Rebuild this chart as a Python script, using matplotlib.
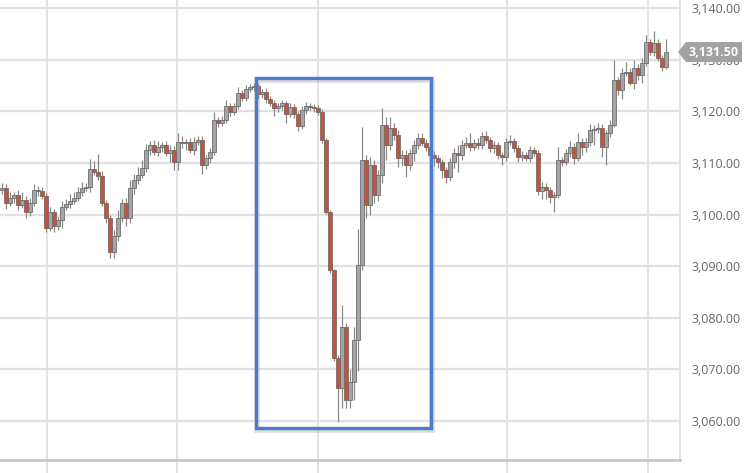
import matplotlib
matplotlib.use("Agg")
import matplotlib.pyplot as plt
import numpy as np
from matplotlib.patches import Rectangle, Polygon
from matplotlib.transforms import IdentityTransform

# closing prices, one per candle
closes = [
    3105.15, 3102.25, 3103.2, 3103.8, 3101.85, 3102.85, 3100.5, 3102.25, 3104.75, 3104.5,
    3103.6, 3097.4, 3100.5, 3097.8, 3098.95, 3101.5, 3102.05, 3102.65, 3103.2, 3104.4,
    3105.15, 3105.35, 3108.85, 3108.25, 3107.5, 3102.25, 3099.35, 3092.75, 3095.85, 3099.35,
    3102.25, 3099.35, 3105.15, 3106.7, 3107.7, 3109.05, 3112.5, 3113.5, 3112.15, 3113.1,
    3113.5, 3111.95, 3112.5, 3110.2, 3114.1, 3113.8, 3114.1, 3112.5, 3114.1, 3114.45,
    3109.6, 3110.95, 3112.15, 3118.35, 3117.75, 3118.35, 3121.05, 3119.9, 3121.05, 3123.6,
    3122.6, 3124.35, 3124.75, 3124.9, 3123.4, 3123.75, 3122.4, 3121.6, 3120.65, 3121.05,
    3121.6, 3119.5, 3120.85, 3119.5, 3117.15, 3120.25, 3121.05, 3120.9, 3120.65, 3119.9,
    3114.45, 3100.5, 3089.25, 3072.2, 3066.4, 3078.2, 3064.1, 3067.55, 3075.7, 3090.25,
    3110.6, 3101.85, 3109.6, 3103.8, 3107.7, 3117.35, 3113.5, 3116.8, 3115.45, 3110.95,
    3111.55, 3109.6, 3111.95, 3113.5, 3114.85, 3113.9, 3113.1, 3111.55, 3110.95, 3110.2,
    3108.65, 3107.3, 3110.2, 3111.95, 3111.55, 3113.5, 3113.9, 3113.1, 3113.9, 3113.5,
    3115.25, 3114.45, 3112.9, 3113.5, 3111.55, 3111.15, 3114.1, 3114.25, 3112.9, 3111.15,
    3111.55, 3110.95, 3112.5, 3111.95, 3104.6, 3105.35, 3104.8, 3103.4, 3103.8, 3110.6,
    3110.2, 3111.95, 3113.1, 3110.95, 3114.1, 3113.1, 3114.1, 3116.4, 3116.6, 3116.8,
    3113.1, 3115.8, 3117.35, 3126.1, 3124.15, 3127.45, 3127.65, 3125.5, 3128.4, 3127.05,
    3129.4, 3133.45, 3131.5, 3133.25, 3130.35, 3128.6, 3131.5,
]
first_open = 3104.75

# wick lengths above / below the body
wick_up = [
    1.0, 0.8, 1.2, 0.6, 1.0, 1.5, 0.8, 1.0, 1.2, 0.8,
    0.8, 0.6, 1.0, 0.5, 0.8, 1.2, 1.0, 1.4, 1.2, 1.0,
    1.2, 0.8, 2.0, 1.5, 3.5, 1.0, 0.6, 0.6, 1.2, 1.5,
    0.8, 1.0, 1.5, 1.2, 1.5, 1.5, 1.2, 0.8, 1.0, 1.2,
    0.6, 0.8, 1.0, 0.8, 1.8, 1.2, 0.6, 0.8, 1.0, 0.8,
    0.8, 0.6, 0.8, 1.5, 0.6, 0.8, 1.2, 0.6, 0.6, 1.2,
    0.6, 0.8, 0.6, 0.6, 0.6, 0.5, 0.8, 0.6, 0.6, 0.5,
    0.6, 0.5, 0.8, 0.6, 0.6, 0.8, 0.8, 0.6, 0.5, 0.5,
    0.5, 0.3, 0.3, 0.3, 0.5, 4.2, 0.8, 2.5, 2.5, 7.0,
    6.4, 1.0, 1.5, 1.0, 1.0, 3.3, 1.5, 2.2, 1.0, 1.0,
    1.0, 1.0, 0.8, 1.0, 1.0, 1.0, 0.8, 0.8, 0.8, 0.6,
    0.6, 0.6, 0.8, 1.0, 1.5, 1.0, 1.2, 1.9, 0.8, 1.0,
    0.8, 1.0, 0.6, 0.8, 0.6, 0.6, 0.8, 1.2, 0.6, 0.6,
    0.8, 0.6, 0.8, 0.6, 0.5, 1.0, 0.8, 0.6, 0.5, 2.5,
    0.6, 0.8, 1.2, 0.8, 1.8, 0.8, 0.8, 1.2, 0.8, 1.0,
    0.8, 0.6, 1.0, 3.9, 0.6, 1.0, 2.0, 0.8, 1.5, 0.8,
    1.0, 1.4, 0.6, 2.4, 0.8, 0.6, 2.5,
]
wick_dn = [
    0.8, 1.2, 0.6, 1.0, 1.0, 0.5, 1.2, 0.8, 0.6, 0.8,
    0.6, 0.8, 0.6, 1.2, 0.8, 1.5, 0.6, 0.8, 0.5, 0.6,
    0.8, 0.6, 1.0, 0.5, 0.8, 0.6, 1.0, 1.2, 1.2, 1.0,
    0.8, 1.5, 1.0, 1.2, 0.8, 0.6, 0.8, 1.0, 0.6, 0.8,
    1.0, 0.6, 1.8, 1.5, 1.5, 0.8, 1.2, 0.6, 1.0, 0.6,
    1.8, 0.8, 1.0, 0.6, 0.8, 0.6, 0.6, 0.8, 0.6, 0.6,
    0.6, 0.6, 0.6, 0.8, 1.0, 0.8, 0.8, 0.6, 1.5, 0.8,
    0.8, 1.8, 0.6, 0.8, 1.0, 0.6, 0.8, 0.6, 0.8, 0.6,
    0.5, 0.3, 0.5, 0.5, 6.6, 3.9, 1.6, 1.6, 3.5, 6.0,
    1.0, 2.5, 2.0, 1.5, 1.2, 1.5, 2.9, 1.0, 1.0, 1.8,
    1.5, 2.3, 1.0, 1.5, 0.8, 0.6, 0.8, 1.0, 1.5, 1.2,
    1.5, 1.2, 0.8, 1.2, 3.2, 1.0, 0.6, 0.8, 0.6, 0.8,
    0.8, 0.6, 0.8, 1.0, 0.8, 1.5, 0.8, 0.6, 0.8, 1.0,
    0.8, 0.6, 0.8, 0.5, 0.8, 1.5, 1.8, 1.2, 2.9, 0.5,
    0.8, 0.6, 0.8, 1.2, 0.6, 1.5, 1.0, 0.8, 3.0, 0.8,
    2.0, 3.5, 0.8, 0.3, 1.0, 1.8, 0.6, 0.4, 1.2, 1.0,
    1.5, 0.6, 0.6, 0.8, 0.6, 0.7, 0.3,
]
y_ticks = [3060, 3070, 3080, 3090, 3100, 3110, 3120, 3130, 3140]
last_price = 3131.50

closes = np.array(closes)
opens = np.r_[first_open, closes[:-1]]
top = np.maximum(opens, closes)
bot = np.minimum(opens, closes)
highs = top + np.array(wick_up)
lows = bot - np.array(wick_dn)
x = np.arange(len(closes))
up = closes >= opens

W, H = 755, 473
fig = plt.figure(figsize=(W / 100, H / 100), dpi=100)
fig.patch.set_facecolor("white")
ax = fig.add_axes([0, 13 / H, 680 / W, 460 / H])

ax.set_xlim(-0.5, 169.5)
ax.set_ylim(3052.44, 3141.59)

# grid
grid_c = "#e1e1e1"
for t in y_ticks:
    ax.axhline(t, color=grid_c, lw=1.6, zorder=0)
for gx in [11.25, 43.75, 79.0, 126.25, 161.5]:
    ax.plot([gx, gx], [-0.03, 1], transform=ax.get_xaxis_transform(),
            color=grid_c, lw=1.3, clip_on=False, zorder=0)

# candles
ax.vlines(x, lows, highs, color="#8a8a8a", lw=0.9, zorder=2)
heights = np.maximum(top - bot, 0.12)
ax.bar(x[up], heights[up], bottom=bot[up], width=0.78, color="#a4a4a4",
       edgecolor="#6f6f6f", linewidth=0.6, zorder=3)
ax.bar(x[~up], heights[~up], bottom=bot[~up], width=0.78, color="#c5523a",
       edgecolor="#7a6a66", linewidth=0.6, zorder=3)

# highlight box
box = dict(x0=63.5, x1=107.25, y0=3058.7, y1=3126.5)
shadow = Rectangle((box["x0"] + 0.3, box["y0"] - 0.4), box["x1"] - box["x0"],
                   box["y1"] - box["y0"], fill=False, ec="#9a9a9a", lw=4,
                   alpha=0.35, zorder=4)
ax.add_patch(shadow)
ax.add_patch(Rectangle((box["x0"], box["y0"]), box["x1"] - box["x0"],
                       box["y1"] - box["y0"], fill=False, ec="#4a7bcf", lw=2.4,
                       zorder=5))

# axes styling
for s in ["top", "left"]:
    ax.spines[s].set_visible(False)
ax.spines["bottom"].set_color("#c8c8c8")
ax.spines["bottom"].set_linewidth(2)
ax.spines["right"].set_color("#dcdcdc")
ax.spines["right"].set_linewidth(1.2)
ax.set_xticks([])
ax.yaxis.tick_right()
ax.set_yticks(y_ticks)
ax.set_yticklabels([f"{t:,.2f}" for t in y_ticks])
ax.tick_params(axis="y", length=0, pad=8, labelsize=9, labelcolor="#666666")
for lab in ax.get_yticklabels():
    lab.set_fontfamily(["Open Sans", "DejaVu Sans"])

# last price tag
fig.canvas.draw()
px, py = ax.transData.transform((0, last_price))
tag_x0 = 678
tag = Polygon([[tag_x0, py], [tag_x0 + 8, py + 10], [742, py + 10],
               [742, py - 10], [tag_x0 + 8, py - 10]], closed=True,
              transform=IdentityTransform(), fc="#a2a2a2", ec="none", zorder=10)
fig.patches.append(tag)
fig.text(714 / W, py / H, f"{last_price:,.2f}", color="white", fontsize=9,
         fontweight="bold", ha="center", va="center", zorder=11,
         family=["Open Sans", "DejaVu Sans"])

fig.savefig("out.png", dpi=100, facecolor="white")
